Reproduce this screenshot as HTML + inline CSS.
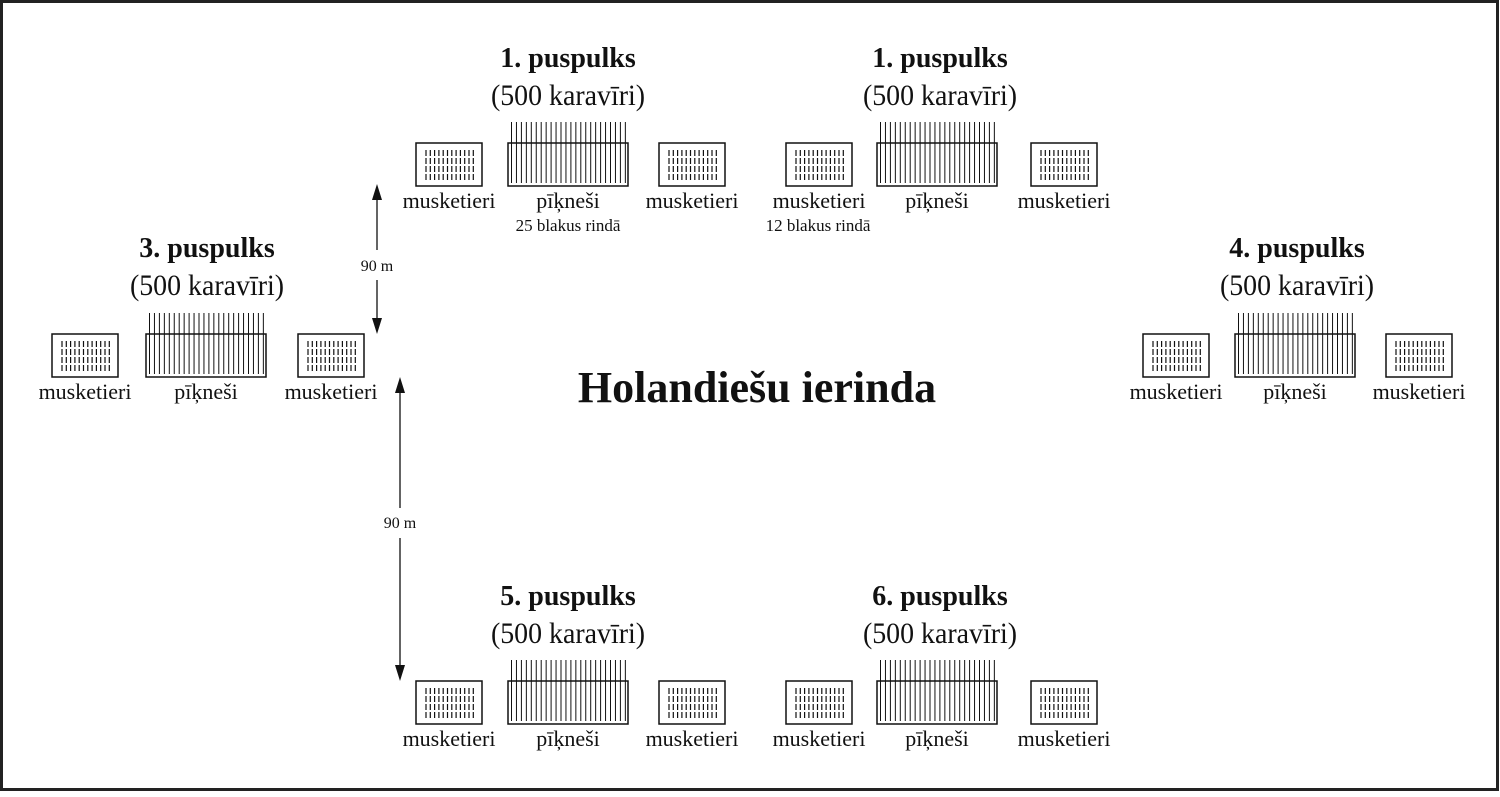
<!DOCTYPE html>
<html><head><meta charset="utf-8"><style>
html,body{margin:0;padding:0;background:#fff}
svg text{font-family:"Liberation Serif",serif;fill:#111}
</style></head><body>
<svg id="s" width="1500" height="792" viewBox="0 0 1500 792" xmlns="http://www.w3.org/2000/svg">
<rect x="1.5" y="1.5" width="1496" height="788" fill="none" stroke="#222" stroke-width="3"/>
<g id="g"></g>
<text x="757" y="402" text-anchor="middle" font-size="44" font-weight="bold">Holandiešu ierinda</text>
<line x1="377" y1="200" x2="377" y2="250" stroke="#111" stroke-width="1.3"/>
<path d="M372,200 L382,200 L377,184 z" fill="#111"/>
<line x1="377" y1="280" x2="377" y2="318" stroke="#111" stroke-width="1.3"/>
<path d="M372,318 L382,318 L377,334 z" fill="#111"/>
<text x="377" y="271" text-anchor="middle" font-size="16">90 m</text>
<line x1="400" y1="393" x2="400" y2="508" stroke="#111" stroke-width="1.3"/>
<path d="M395,393 L405,393 L400,377 z" fill="#111"/>
<line x1="400" y1="538" x2="400" y2="665" stroke="#111" stroke-width="1.3"/>
<path d="M395,665 L405,665 L400,681 z" fill="#111"/>
<text x="400" y="528" text-anchor="middle" font-size="16">90 m</text>
</svg>
<script>
var g=document.getElementById('g'),h='';
function musk(x,y){h+='<rect x="'+x+'" y="'+y+'" width="66" height="43" fill="none" stroke="#111" stroke-width="1.5"/>';
 for(var i=0;i<12;i++){var cx=x+10+i*4.3;h+='<line x1="'+cx+'" y1="'+(y+7)+'" x2="'+cx+'" y2="'+(y+37)+'" stroke="#111" stroke-width="1.2" stroke-dasharray="6,2"/>';}}
function pike(x,y){h+='<rect x="'+x+'" y="'+y+'" width="120" height="43" fill="none" stroke="#111" stroke-width="1.5"/>';
 for(var i=0;i<24;i++){var cx=x+3.5+i*4.95;h+='<line x1="'+cx+'" y1="'+(y-21)+'" x2="'+cx+'" y2="'+(y+40)+'" stroke="#111" stroke-width="1"/>';}}
function t(x,y,s,sz,b,sx){var tr=sx?' transform="translate('+x+','+y+') scale('+sx+',1) translate('+(-x)+','+(-y)+')"':'';
 h+='<text x="'+x+'" y="'+y+'" text-anchor="middle" font-size="'+sz+'"'+(b?' font-weight="bold"':'')+tr+'>'+s+'</text>';}
function grp(m1,p,m2,by,tx,ty,title){
 musk(m1,by);pike(p,by);musk(m2,by);
 t(tx,ty,title,28,1);t(tx,ty+38,'(500 karavīri)',30,0,0.93);
 var ly=by+65;t(m1+33,ly,'musketieri',22);t(p+60,ly,'pīķneši',22);t(m2+33,ly,'musketieri',22);}
grp(416,508,659,143,568,67,'1. puspulks');
grp(786,877,1031,143,940,67,'1. puspulks');
grp(52,146,298,334,207,257,'3. puspulks');
grp(1143,1235,1386,334,1297,257,'4. puspulks');
grp(416,508,659,681,568,605,'5. puspulks');
grp(786,877,1031,681,940,605,'6. puspulks');
t(568,231,'25 blakus rindā',17);t(818,231,'12 blakus rindā',17);
g.innerHTML=h;
</script>
</body></html>
